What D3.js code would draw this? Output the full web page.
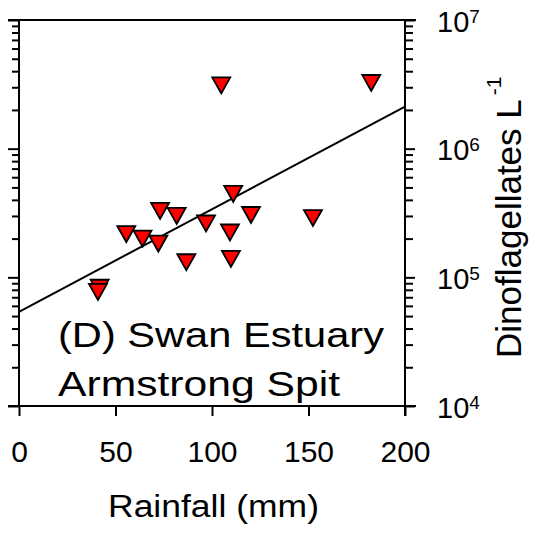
<!DOCTYPE html>
<html>
<head>
<meta charset="utf-8">
<script src="https://cdn.jsdelivr.net/npm/d3@7"></script>
<style>
  html, body { margin: 0; padding: 0; background: #fff; }
  svg { display: block; font-family: Arial, "Liberation Sans", sans-serif; }
</style>
</head>
<body>
<svg id="chart" width="533" height="535"></svg>
<script>
// Monthly rainfall (mm) against dinoflagellate abundance (cells per litre)
const rainfall = [104.8, 182.5, 111.0, 41.8, 40.9, 55.6, 64.0, 72.2, 73.1, 81.7, 86.7, 96.9, 120.2, 109.3, 109.8, 152.3];
const dinoflagellates = [3.10e6, 3.24e6, 4.45e5, 8.3e4, 7.7e4, 2.17e5, 2.0e5, 1.83e5, 3.28e5, 3.0e5, 1.31e5, 2.62e5, 3.05e5, 2.23e5, 1.39e5, 2.89e5];

// Fitted log-linear regression, evaluated at the ends of the rainfall range
const fitRainfall = [0, 200];
const fitDinoflagellates = [5.4e4, 2.12e6];

const xTicks = [0, 50, 100, 150, 200];
const yDecades = [1e4, 1e5, 1e6, 1e7];
const yExponents = ["4", "5", "6", "7"];

const svg = d3.select("#chart");
const plotLeft = 19, plotRight = 405, plotTop = 20, plotBottom = 406;

const x = d3.scaleLinear().domain([0, 200]).range([plotLeft, plotRight]);
const y = d3.scaleLog().domain([1e4, 1e7]).range([plotBottom, plotTop]);

// minor ticks: 2..9 within each decade
const minor = [];
yDecades.slice(0, -1).forEach(d => { for (let k = 2; k <= 9; k++) minor.push(d * k); });

const axisStyle = g => {
  g.select(".domain").remove();
  g.selectAll("line").attr("stroke", "#000").attr("stroke-width", 2);
};

// frame lines (top and bottom extend past the plot to form the 10^7 / 10^4 ticks)
svg.append("line").attr("x1", plotLeft - 11).attr("x2", plotRight + 11)
  .attr("y1", y(1e7)).attr("y2", y(1e7)).attr("stroke", "#000").attr("stroke-width", 2);
svg.append("line").attr("x1", plotLeft - 11).attr("x2", plotRight + 11)
  .attr("y1", y(1e4)).attr("y2", y(1e4)).attr("stroke", "#000").attr("stroke-width", 2);
svg.append("line").attr("x1", plotLeft).attr("x2", plotLeft)
  .attr("y1", plotTop).attr("y2", plotBottom).attr("stroke", "#000").attr("stroke-width", 2);
svg.append("line").attr("x1", plotRight).attr("x2", plotRight)
  .attr("y1", plotTop).attr("y2", plotBottom + 10).attr("stroke", "#000").attr("stroke-width", 2);

// left axis: ticks only
svg.append("g").attr("transform", `translate(${plotLeft},0)`)
  .call(d3.axisLeft(y).tickValues(minor).tickSize(7).tickFormat(""))
  .call(axisStyle);
svg.append("g").attr("transform", `translate(${plotLeft},0)`)
  .call(d3.axisLeft(y).tickValues(yDecades).tickSize(11).tickFormat(""))
  .call(axisStyle);

// right axis with power-of-ten labels
svg.append("g").attr("transform", `translate(${plotRight},0)`)
  .call(d3.axisRight(y).tickValues(minor).tickSize(8).tickFormat(""))
  .call(axisStyle);
const yAx = svg.append("g").attr("transform", `translate(${plotRight},0)`)
  .call(d3.axisRight(y).tickValues(yDecades).tickSize(10).tickFormat(""))
  .call(axisStyle);
yAx.selectAll(".tick").each(function(d, i) {
  const t = d3.select(this).append("text")
    .attr("x", 32).attr("y", 11)
    .attr("fill", "#000").attr("font-size", 29)
    .attr("text-anchor", "start");
  t.append("tspan").text("10");
  t.append("tspan").attr("font-size", 19).attr("dy", -9).text(yExponents[i]);
});

// bottom axis
const xAx = svg.append("g").attr("transform", `translate(0,${plotBottom})`)
  .call(d3.axisBottom(x).tickValues(xTicks).tickSize(10).tickFormat(d3.format("d")))
  .call(axisStyle);
xAx.selectAll("text").attr("fill", "#000").attr("font-size", 30)
  .attr("font-family", "Arial, 'Liberation Sans', sans-serif")
  .attr("dy", null).attr("y", 56);

// regression line
const line = d3.line().x(d => x(d[0])).y(d => y(d[1]));
svg.append("path")
  .datum(d3.zip(fitRainfall, fitDinoflagellates))
  .attr("d", line).attr("fill", "none").attr("stroke", "#000").attr("stroke-width", 2);

// downward triangle markers
const triDown = {
  draw(ctx, size) {
    const w = 9, h = 8;
    ctx.moveTo(-w, -h); ctx.lineTo(w, -h); ctx.lineTo(0, h); ctx.closePath();
  }
};
svg.append("g").selectAll("path")
  .data(d3.zip(rainfall, dinoflagellates))
  .join("path")
  .attr("transform", d => `translate(${x(d[0])},${y(d[1])})`)
  .attr("d", d3.symbol(triDown))
  .attr("fill", "#ff0000").attr("stroke", "#000").attr("stroke-width", 1.8)
  .attr("stroke-linejoin", "miter");

// station label
svg.append("text").attr("x", 58).attr("y", 347).attr("font-size", 35)
  .attr("textLength", 326).attr("lengthAdjust", "spacingAndGlyphs")
  .text("(D) Swan Estuary");
svg.append("text").attr("x", 58).attr("y", 396).attr("font-size", 35)
  .attr("textLength", 282).attr("lengthAdjust", "spacingAndGlyphs")
  .text("Armstrong Spit");

// axis titles
svg.append("text").attr("x", 108).attr("y", 517).attr("font-size", 31)
  .attr("textLength", 211).attr("lengthAdjust", "spacingAndGlyphs")
  .text("Rainfall (mm)");

const yTitle = svg.append("text")
  .attr("transform", "translate(521,358) rotate(-90)")
  .attr("font-size", 35);
yTitle.append("tspan").text("Dinoflagellates L");
yTitle.append("tspan").attr("font-size", 21).attr("dx", 4).attr("dy", -20).text("-1");
</script>
</body>
</html>
